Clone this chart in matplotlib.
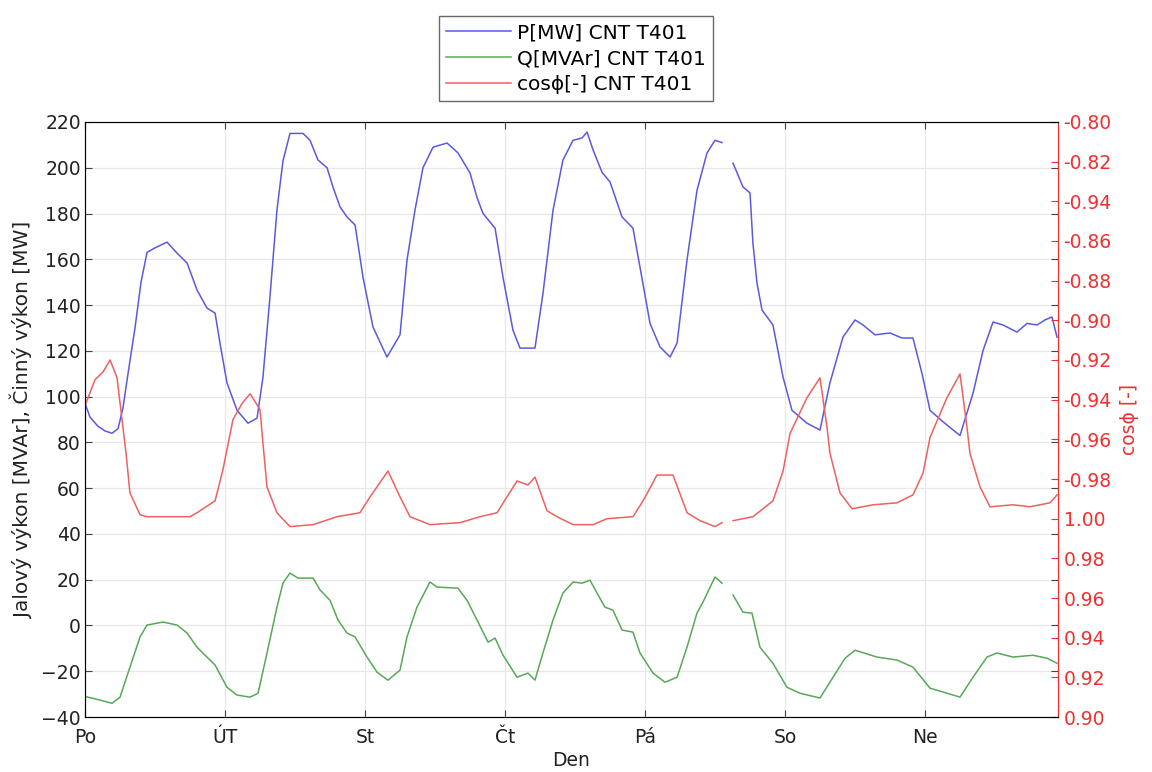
import numpy as np
import matplotlib
matplotlib.use("Agg")
import matplotlib.pyplot as plt

plt.rcParams['font.family'] = ['DejaVu Sans']

# casova osa v dnech (0 = pondeli), NaN = vypadek dat
days = ['Po', 'ÚT', 'St', 'Čt', 'Pá', 'So', 'Ne']

t_p = [0.000, 0.036, 0.093, 0.143, 0.193, 0.236, 0.271, 0.307, 0.357, 0.400, 0.443, 0.500, 0.586,
       0.657, 0.729, 0.800, 0.871, 0.929, 0.964, 1.014, 1.086, 1.164, 1.229, 1.271, 1.321, 1.371,
       1.414, 1.464, 1.557, 1.607, 1.664, 1.729, 1.771, 1.821, 1.871, 1.929, 1.986, 2.057, 2.157,
       2.250, 2.300, 2.357, 2.414, 2.486, 2.586, 2.664, 2.750, 2.800, 2.843, 2.929, 2.986, 3.057,
       3.107, 3.214, 3.271, 3.343, 3.414, 3.486, 3.550, 3.586, 3.629, 3.693, 3.750, 3.836, 3.914,
       3.964, 4.036, 4.107, 4.179, 4.229, 4.300, 4.371, 4.443, 4.500, 4.550, 4.590, 4.629, 4.700,
       4.750, 4.771, 4.800, 4.836, 4.914, 4.986, 5.050, 5.157, 5.250, 5.321, 5.414, 5.500, 5.557,
       5.643, 5.750, 5.836, 5.914, 5.979, 6.036, 6.129, 6.250, 6.343, 6.414, 6.486, 6.557, 6.657,
       6.729, 6.800, 6.857, 6.907, 6.943]
p_mw = [97, 91, 87, 85, 84, 86, 95, 110, 130, 150, 163, 165, 167.5,
        162.7, 158.4, 146.6, 138.7, 136.5, 123.4, 106, 94, 88.4, 90.6, 108.5, 143.5, 181.5,
        203, 215, 215, 212, 203.4, 200, 191.6, 183, 178.5, 175, 152, 130.4, 117.3,
        127, 159.7, 181.5, 200, 209, 210.8, 206.5, 197.7, 187, 180, 173.6, 152, 129,
        121.2, 121.2, 145, 181.5, 203.4, 212, 213, 215.6, 207.8, 198, 193.8, 178.5, 173.6,
        156.6, 132, 121.7, 117.3, 123.4, 159.7, 190, 206.5, 212, 211, np.nan, 202, 191.6,
        189, 167, 149.6, 137.8, 131.3, 108.5, 94, 88.4, 85.4, 106, 126, 133.5, 131.3,
        127, 127.8, 125.6, 125.6, 110, 94, 89, 83, 101.5, 120, 132.6, 131.3, 128.2,
        132, 131.3, 133.5, 134.8, 126]

t_q = [0.000, 0.107, 0.193, 0.250, 0.321, 0.393, 0.443, 0.557, 0.657, 0.729, 0.800, 0.871, 0.929,
       1.014, 1.086, 1.179, 1.236, 1.300, 1.371, 1.414, 1.464, 1.521, 1.629, 1.679, 1.750, 1.807,
       1.871, 1.929, 2.014, 2.086, 2.164, 2.250, 2.300, 2.371, 2.464, 2.514, 2.664, 2.729, 2.800,
       2.879, 2.929, 2.986, 3.086, 3.164, 3.214, 3.271, 3.343, 3.414, 3.486, 3.550, 3.607, 3.657,
       3.714, 3.771, 3.836, 3.914, 3.964, 4.057, 4.143, 4.229, 4.300, 4.371, 4.414, 4.500, 4.550,
       4.590, 4.629, 4.700, 4.764, 4.821, 4.914, 5.014, 5.107, 5.250, 5.343, 5.429, 5.500, 5.657,
       5.800, 5.914, 6.036, 6.157, 6.250, 6.343, 6.443, 6.514, 6.629, 6.771, 6.871, 6.943]
q_mvar = [-31, -32.6, -34, -31.3, -18.2, -5, 0.2, 1.5, 0.2, -3.3, -9.5, -13.8, -17.3,
          -27, -30.4, -31.3, -29.6, -12, 8, 18.5, 22.9, 20.7, 20.7, 15.5, 11, 2.4,
          -3.3, -5, -13.8, -20.4, -23.9, -19.5, -5, 8, 19, 16.8, 16.3, 11, 2.4,
          -7.3, -5.5, -13, -22.6, -20.8, -23.9, -12, 2.4, 14.2, 19, 18.5, 19.8, 14.2,
          8, 6.7, -2, -2.9, -12, -20.8, -24.8, -22.6, -9.5, 5.4, 10.2, 21.2, 18.5,
          np.nan, 13.3, 5.8, 5.4, -9.5, -16.5, -27, -29.6, -31.7, -22.6, -14.3, -10.8, -13.8,
          -15.1, -18.2, -27.4, -29.6, -31.3, -22.6, -13.8, -12, -13.8, -13, -14.3, -16.5]

t_cos = [0.000, 0.071, 0.129, 0.179, 0.229, 0.264, 0.293, 0.321, 0.393, 0.443, 0.750, 0.800, 0.929,
         0.986, 1.057, 1.121, 1.179, 1.250, 1.271, 1.300, 1.371, 1.464, 1.629, 1.800, 1.964, 2.036,
         2.164, 2.250, 2.321, 2.464, 2.679, 2.821, 2.943, 3.014, 3.086, 3.164, 3.214, 3.300, 3.371,
         3.486, 3.629, 3.729, 3.914, 3.986, 4.086, 4.200, 4.300, 4.393, 4.500, 4.550, 4.590, 4.629,
         4.771, 4.914, 4.986, 5.036, 5.157, 5.250, 5.300, 5.321, 5.393, 5.479, 5.629, 5.800, 5.914,
         5.986, 6.036, 6.157, 6.250, 6.300, 6.321, 6.393, 6.464, 6.629, 6.750, 6.893, 6.943]
cos_phi = [-0.943, -0.930, -0.926, -0.920, -0.929, -0.950, -0.967, -0.987, -0.998, -0.999, -0.999, -0.997, -0.991,
           -0.975, -0.950, -0.942, -0.937, -0.945, -0.962, -0.984, -0.997, 0.996, 0.997, -0.999, -0.997, -0.989,
           -0.976, -0.989, -0.999, 0.997, 0.998, -0.999, -0.997, -0.989, -0.981, -0.983, -0.979, -0.996, -0.999,
           0.997, 0.997, 1.000, -0.999, -0.991, -0.978, -0.978, -0.997, 0.999, 0.996, 0.998, np.nan, 0.999,
           -0.999, -0.991, -0.976, -0.957, -0.939, -0.929, -0.954, -0.967, -0.987, -0.995, -0.993, -0.992, -0.988,
           -0.977, -0.959, -0.939, -0.927, -0.954, -0.967, -0.984, -0.994, -0.993, -0.994, -0.992, -0.988]

# popisky prave osy (zaporny cos nad 1.00), vcetne "-0.94" tak jak je v originale
cos_ticks = [0.90, 0.92, 0.94, 0.96, 0.98, 1.00, 1.02, 1.04, 1.06, 1.08, 1.10, 1.12, 1.14, 1.16, 1.18, 1.20]
cos_labels = ['0.90', '0.92', '0.94', '0.96', '0.98', '1.00', '-0.98', '-0.96', '-0.94', '-0.92',
              '-0.90', '-0.88', '-0.86', '-0.94', '-0.82', '-0.80']

# zaporny cos se kresli jako 2 + cos, aby 1.00 bylo uprostred
c = np.array(cos_phi)
cos_axis = np.where(c < 0, 2 + c, c)

fig = plt.figure(figsize=(11.52, 7.72), dpi=100)
ax = fig.add_axes([0.0738, 0.0712, 0.8446, 0.7708])
ax2 = ax.twinx()

l1, = ax.plot(t_p, p_mw, color='#5a5ae0', lw=1.1, label='P[MW] CNT T401')
l2, = ax.plot(t_q, q_mvar, color='#58a858', lw=1.1, label='Q[MVAr] CNT T401')
l3, = ax2.plot(t_cos, cos_axis, color='#f06060', lw=1.1, label='cosϕ[-] CNT T401')

ax.set_xlim(0, 6.95)
ax.set_ylim(-40, 220)
ax.set_yticks(np.arange(-40, 221, 20))
ax.set_xticks(range(len(days)))
ax.set_xticklabels(days)
ax.grid(True, color='#e8e8e8', lw=0.9)
ax.set_axisbelow(True)
ax.tick_params(direction='in', labelsize=13.5, length=5, top=True, right=True, color='#444444',
               labelcolor='#222222', pad=3)
ax.tick_params(axis='x', pad=8)
ax.set_xlabel('Den', fontsize=13.5, color='#222222', labelpad=3)
ax.set_ylabel('Jalový výkon [MVAr], Činný výkon [MW]', fontsize=14.5, color='#222222', labelpad=6)
for s in ax.spines.values():
    s.set_color('#555555')

ax2.set_ylim(0.90, 1.20)
ax2.set_yticks(cos_ticks)
ax2.set_yticklabels(cos_labels)
ax2.tick_params(direction='in', labelsize=13.5, length=5, colors='#f03030', pad=4)
ax2.spines['right'].set_color('#f03030')
ax2.set_ylabel('cosϕ [-]', fontsize=13.5, color='#f03030', labelpad=6)

fig.legend(handles=[l1, l2, l3], loc='upper center', bbox_to_anchor=(0.5, 0.992),
           fontsize=14.5, frameon=True, fancybox=False, edgecolor='#444444',
           handlelength=3.2, handletextpad=0.3, borderpad=0.35, labelspacing=0.35)

fig.savefig('out.png', dpi=100)
